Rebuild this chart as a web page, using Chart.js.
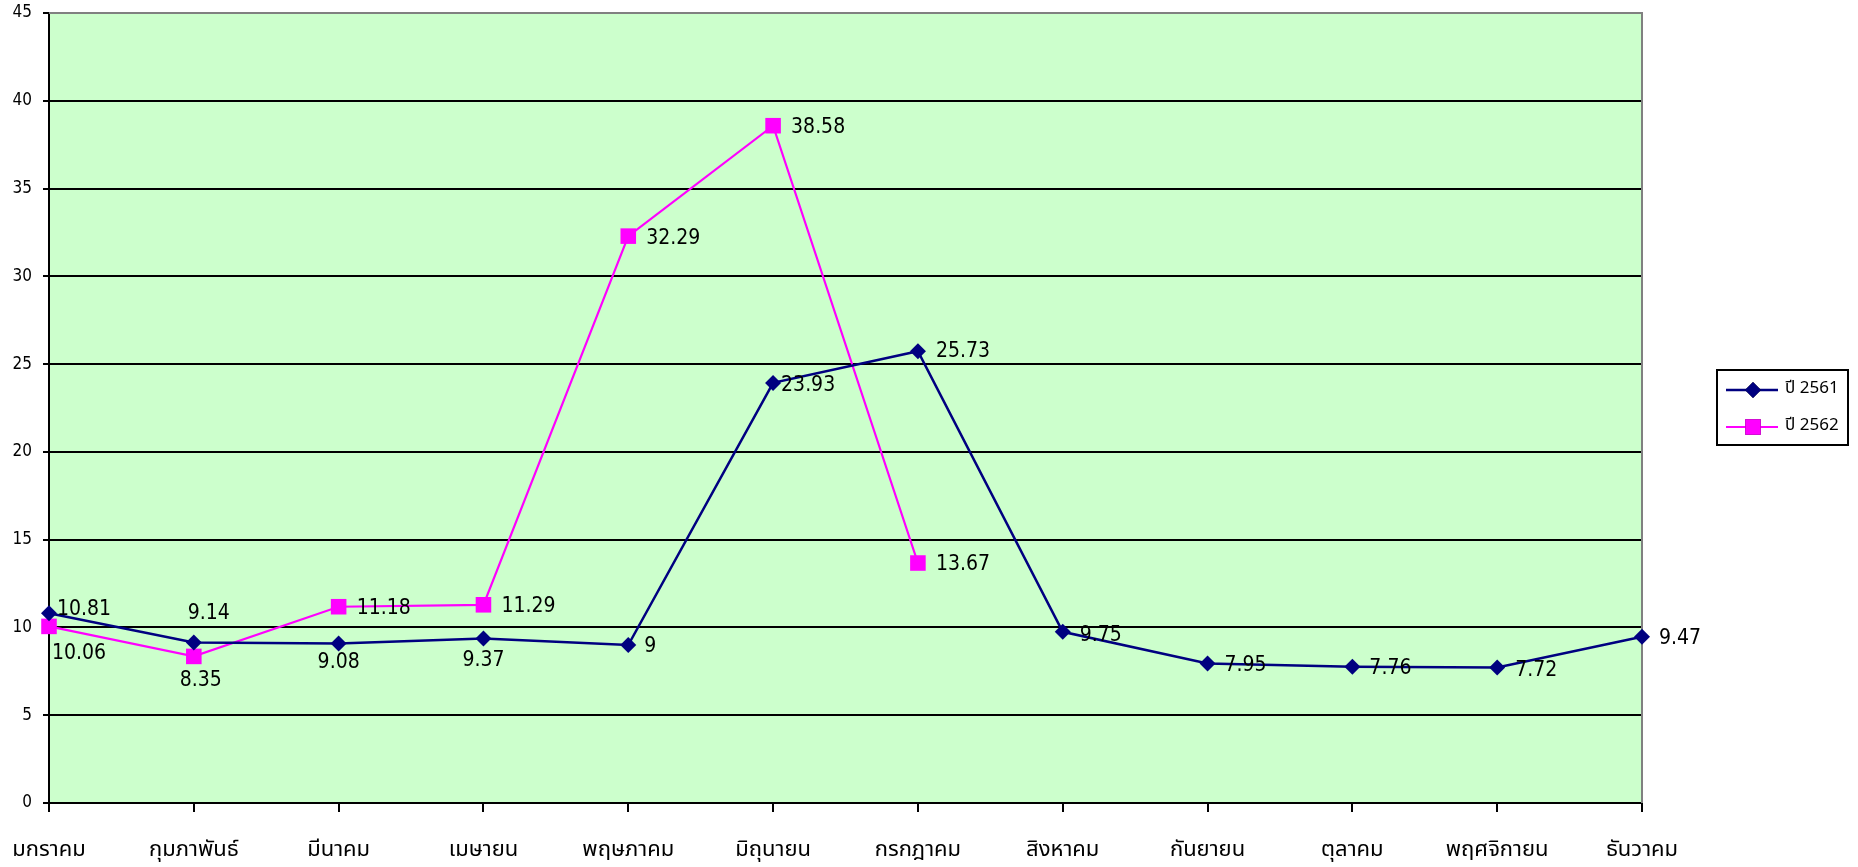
<!DOCTYPE html>
<html lang="th">
<head>
<meta charset="utf-8">
<title>ปี 2561 / ปี 2562</title>
<script src="https://cdn.jsdelivr.net/npm/chart.js@4/dist/chart.umd.min.js"></script>
<style>
    html, body { margin: 0; padding: 0; background: #fff; }
    #wrap { width: 1858px; height: 867px; }
</style>
</head>
<body>
<div id="wrap"><canvas id="chart" width="1858" height="867"></canvas></div>
<script>
const months = ['มกราคม', 'กุมภาพันธ์', 'มีนาคม', 'เมษายน', 'พฤษภาคม', 'มิถุนายน', 'กรกฎาคม', 'สิงหาคม', 'กันยายน', 'ตุลาคม', 'พฤศจิกายน', 'ธันวาคม'];
const seriesNames = ['ปี 2561', 'ปี 2562'];
const values2561 = [10.81, 9.14, 9.08, 9.37, 9, 23.93, 25.73, 9.75, 7.95, 7.76, 7.72, 9.47];
const values2562 = [10.06, 8.35, 11.18, 11.29, 32.29, 38.58, 13.67, null, null, null, null, null];
const yTicks = [0, 5, 10, 15, 20, 25, 30, 35, 40, 45];

// where each value label sits relative to its point: [dx, dy, align]
const labelPos2561 = [[8, -4, 'left'], [15, -29, 'center'], [0, 19, 'center'], [0, 22, 'center'], [16, 2, 'left'], [8, 3, 'left'],
    [18, 0, 'left'], [17, 4, 'left'], [17, 2, 'left'], [17, 2, 'left'], [18, 3, 'left'], [17, 2, 'left']];
const labelPos2562 = [[30, 27, 'center'], [7, 24, 'center'], [18, 2, 'left'], [18, 2, 'left'], [18, 2, 'left'], [18, 2, 'left'], [18, 2, 'left']];

const FONT = "'DejaVu Sans Condensed', 'Liberation Sans', 'DejaVu Sans', sans-serif";
const THAI_FONT = "Tahoma, 'Noto Sans Thai', 'Loma', 'Garuda', 'DejaVu Sans', sans-serif";

const plotFrame = {
    id: 'plotFrame',
    beforeDraw(chart) {
        const { ctx, chartArea: a } = chart;
        ctx.save();
        ctx.fillStyle = '#CCFFCC';
        ctx.fillRect(a.left, a.top, a.right - a.left, a.bottom - a.top);
        ctx.restore();
    },
    beforeDatasetsDraw(chart) {
        const { ctx, chartArea: a } = chart;
        ctx.save();
        ctx.strokeStyle = '#808080';
        ctx.lineWidth = 2;
        ctx.beginPath();
        ctx.moveTo(a.left, a.top);
        ctx.lineTo(a.right, a.top);
        ctx.lineTo(a.right, a.bottom);
        ctx.stroke();
        ctx.restore();
    }
};

const valueLabels = {
    id: 'valueLabels',
    afterDatasetsDraw(chart) {
        const ctx = chart.ctx;
        const positions = [labelPos2561, labelPos2562];
        ctx.save();
        ctx.font = '21px ' + FONT;
        ctx.fillStyle = '#000';
        ctx.textBaseline = 'middle';
        chart.data.datasets.forEach((ds, di) => {
            chart.getDatasetMeta(di).data.forEach((pt, i) => {
                const v = ds.data[i];
                if (v === null || v === undefined) return;
                const [dx, dy, align] = positions[di][i];
                ctx.textAlign = align;
                ctx.fillText(String(v), pt.x + dx, pt.y + dy);
            });
        });
        ctx.restore();
    }
};

const boxLegend = {
    id: 'boxLegend',
    afterDraw(chart) {
        const ctx = chart.ctx;
        const x = 1717, y = 370, w = 131, h = 75;
        ctx.save();
        ctx.strokeStyle = '#000';
        ctx.lineWidth = 2;
        ctx.strokeRect(x, y, w, h);
        ctx.font = '17px ' + THAI_FONT;
        ctx.textBaseline = 'middle';
        ctx.textAlign = 'left';
        chart.data.datasets.forEach((ds, i) => {
            const ly = y + 20 + i * 37;
            ctx.strokeStyle = ds.borderColor;
            ctx.lineWidth = ds.borderWidth;
            ctx.beginPath();
            ctx.moveTo(x + 9, ly);
            ctx.lineTo(x + 61, ly);
            ctx.stroke();
            Chart.helpers.drawPoint(ctx, {
                pointStyle: ds.pointStyle,
                radius: ds.pointRadius,
                borderWidth: 0
            }, x + 36, ly);
            ctx.fillStyle = ds.pointBackgroundColor;
            ctx.fill();
            ctx.fillStyle = '#000';
            ctx.fillText(ds.label, x + 68, ly);
        });
        ctx.restore();
    }
};

new Chart(document.getElementById('chart'), {
    type: 'line',
    data: {
        labels: months,
        datasets: [{
            label: seriesNames[0],
            data: values2561,
            borderColor: '#000080',
            backgroundColor: '#000080',
            pointBackgroundColor: '#000080',
            pointBorderColor: '#000080',
            borderWidth: 2.5,
            pointStyle: 'rectRot',
            pointRadius: 8,
            pointBorderWidth: 0,
            tension: 0
        }, {
            label: seriesNames[1],
            data: values2562,
            borderColor: '#FF00FF',
            backgroundColor: '#FF00FF',
            pointBackgroundColor: '#FF00FF',
            pointBorderColor: '#FF00FF',
            borderWidth: 2.2,
            pointStyle: 'rect',
            pointRadius: 11,
            pointBorderWidth: 0,
            tension: 0
        }]
    },
    options: {
        responsive: false,
        animation: false,
        layout: { padding: { top: 13, right: 216, left: 0, bottom: 0 } },
        plugins: {
            legend: { display: false },
            tooltip: { enabled: false }
        },
        scales: {
            x: {
                offset: false,
                afterFit: (s) => { s.height = 64; s.paddingLeft = 0; s.paddingRight = 0; },
                grid: { drawOnChartArea: false, drawTicks: true, tickLength: 9, tickColor: '#000', lineWidth: 2 },
                border: { color: '#000', width: 2 },
                ticks: { color: '#000', padding: 26, maxRotation: 0, autoSkip: false, font: { family: THAI_FONT, size: 22 } }
            },
            y: {
                min: 0,
                max: 45,
                afterFit: (s) => { s.width = 49; s.paddingTop = 0; s.paddingBottom = 0; },
                afterBuildTicks: (s) => { s.ticks = yTicks.map(v => ({ value: v })); },
                grid: {
                    color: (c) => c.tick && c.tick.value === 45 ? '#808080' : '#000',
                    tickColor: '#000',
                    lineWidth: 2,
                    tickLength: 6
                },
                border: { color: '#000', width: 2 },
                ticks: { color: '#000', padding: 11, font: { family: FONT, size: 17 } }
            }
        }
    },
    plugins: [plotFrame, valueLabels, boxLegend]
});
</script>
</body>
</html>
